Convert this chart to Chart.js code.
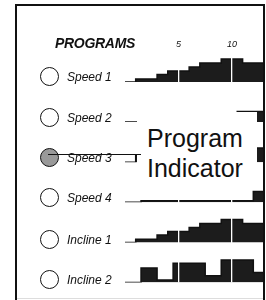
<!DOCTYPE html>
<html>
<head>
<meta charset="utf-8">
<script src="https://cdn.jsdelivr.net/npm/chart.js@4.4.0/dist/chart.umd.min.js"></script>
<style>
  body { margin: 0; background: #fff; }
  #wrap { position: relative; width: 266px; height: 300px; overflow: hidden; font-family: "Liberation Sans", Arial, sans-serif; color: #111; }
  #myChart { position: absolute; left: 0; top: 0; }
  .frame { position: absolute; left: 15px; top: 4px; width: 246px; height: 300px; border: 2px solid #111; border-bottom: none; z-index: 3; }
  .bottomline { position: absolute; left: 17px; top: 298px; width: 246px; height: 1px; background: #ddd; }
  .heading { position: absolute; left: 55px; top: 36px; font-size: 14px; line-height: 14px; font-weight: bold; font-style: italic; letter-spacing: -0.3px; z-index: 2; }
  .row { position: absolute; left: 40px; height: 20px; z-index: 2; }
  .dot { position: absolute; left: 0; top: 0; width: 19px; height: 19px; box-sizing: border-box; border: 1.5px solid #111; border-radius: 50%; background: #fff; }
  .dot.on { background: #999; }
  .name { position: absolute; left: 27px; top: 2px; font-size: 12px; line-height: 16px; font-style: italic; white-space: nowrap; }
  .callout { position: absolute; left: 137px; top: 112px; width: 120px; height: 73px; background: #fff; z-index: 2; }
  .callout div { padding: 11px 0 0 10px; font-size: 25px; line-height: 30px; }
  .leader { position: absolute; left: 48px; top: 153.5px; width: 93px; height: 1.5px; background: #111; z-index: 4; }
</style>
</head>
<body>
<div id="wrap">
  <canvas id="myChart" width="266" height="300"></canvas>
  <div class="frame"></div>
  <div class="bottomline"></div>
  <div class="heading">PROGRAMS</div>
  <div id="rows"></div>
  <div class="callout"><div>Program<br>Indicator</div></div>
  <div class="leader"></div>
</div>
<script>
// programmes and their level per half minute
const programNames = ['Speed 1', 'Speed 2', 'Speed 3', 'Speed 4', 'Incline 1', 'Incline 2'];
const halfMinutes = [0, 0.5, 1, 1.5, 2, 2.5, 3, 3.5, 4, 4.5, 5, 5.5, 6, 6.5, 7, 7.5, 8, 8.5, 9, 9.5, 10, 10.5, 11, 11.5, 12, 12.5];
const programEnd = 13;
const minuteTicks = [5, 10];

const speed1 = [0, 0, 0.75, 0.75, 0.75, 0.75, 1.85, 1.85, 2.7, 2.7, 2.7, 2.7, 3.7, 3.7, 4.7, 4.7, 4.7, 4.7, 5.7, 5.7, 5.7, 5.7, 4.7, 4.7, 4.7, 4.7];
const speed2 = [0, 0, 0, 0.5, 0.5, 0.5, 0.5, 0.5, 0.5, 1, 1, 1, 1, 1, 1, 1.5, 1.5, 1.5, 1.5, 1.5, 1.5, 2.6, 2.6, 2.6, 2.6, 2.6];
const speed3 = [0, 0, 1.75, 1.75, 1.75, 1.75, 1.75, 1.75, 1.75, 2.5, 2.5, 2.5, 2.5, 2.5, 2.5, 3, 3, 3, 3, 3, 3, 3.5, 3.5, 3.5, 3.5, 3.5];
const speed4 = [0, 0, 0, 0.4, 0.4, 0.4, 0.4, 0.4, 0.4, 0.4, 0.4, 0.4, 0.4, 0.4, 0.4, 0.4, 0.4, 0.4, 0.4, 0.4, 0.4, 0.4, 0.4, 0.4, 2.7, 2.7];
const incline1 = [0, 0, 0.75, 0.75, 0.75, 0.75, 1.85, 1.85, 2.7, 2.7, 2.7, 2.7, 3.7, 3.7, 4.7, 4.7, 4.7, 4.7, 5.7, 5.7, 5.7, 5.7, 4.7, 4.7, 4.7, 4.7];
const incline2 = [0, 0, 0, 3.6, 3.6, 3.6, 0.6, 0.6, 0.6, 4.8, 4.8, 4.8, 4.8, 4.8, 4.8, 1.7, 1.7, 1.7, 5.6, 5.6, 5.6, 5.6, 5.6, 5.6, 2.5, 2.5];

const programLevels = [speed1, speed2, speed3, speed4, incline1, incline2];
const rowCenters = [76.5, 117.5, 157, 197.5, 239, 279.5];

// labels with the round lamps
const rowsDiv = document.getElementById('rows');
programNames.forEach((name, i) => {
    const row = document.createElement('div');
    row.className = 'row';
    row.style.top = (rowCenters[i] - 9.5) + 'px';
    row.innerHTML = '<div class="dot' + (i === 2 ? ' on' : '') + '"></div><div class="name">' + name + '</div>';
    rowsDiv.appendChild(row);
});

function toPoints(levels) {
    const pts = halfMinutes.map((t, i) => ({ x: t, y: levels[i] }));
    pts.push({ x: programEnd, y: levels[levels.length - 1] });
    return pts;
}

const datasets = programLevels.map((levels, i) => ({
    label: programNames[i],
    data: toPoints(levels),
    yAxisID: 'y' + i,
    stepped: true,
    fill: 'origin',
    backgroundColor: '#1c1c1c',
    borderColor: '#111',
    borderWidth: 1.5,
    pointRadius: 0
}));

const scales = {
    x: {
        type: 'linear',
        position: 'top',
        min: 0,
        max: programEnd,
        afterBuildTicks: function(scale) {
            scale.ticks = minuteTicks.map(v => ({ value: v }));
        },
        grid: { color: '#fff', lineWidth: 1.3, z: 1, drawTicks: false },
        border: { display: false },
        ticks: { color: '#111', padding: 2, maxRotation: 0, font: { family: 'Liberation Sans', style: 'italic', size: 9 } }
    }
};
// stacked scales are laid out bottom first, so add the last row first
for (let i = programNames.length - 1; i >= 0; i--) {
    scales['y' + i] = {
        type: 'linear',
        position: 'left',
        stack: 'rows',
        stackWeight: i === 0 ? 0.75 : 1,
        min: 0,
        max: i === 0 ? 7.5 : 10,
        display: false
    };
}

const ctx = document.getElementById('myChart').getContext('2d');
const myChart = new Chart(ctx, {
    type: 'line',
    data: { datasets: datasets },
    options: {
        responsive: false,
        animation: false,
        events: [],
        layout: { padding: { top: 37, left: 125, right: 2, bottom: 17.5 } },
        plugins: { legend: { display: false }, tooltip: { enabled: false } },
        scales: scales
    }
});
</script>
</body>
</html>
